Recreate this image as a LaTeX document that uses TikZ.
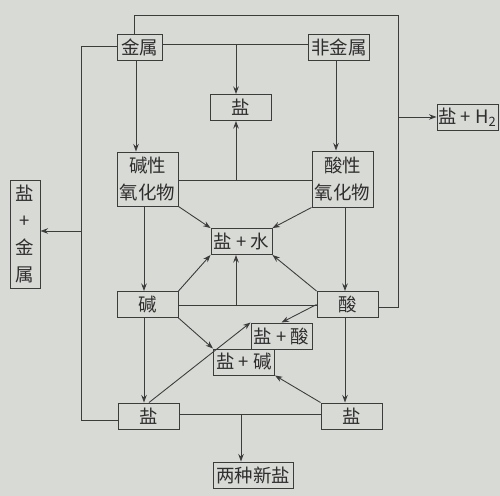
\documentclass[tikz,border=0pt]{standalone}
\usepackage{fontspec}
\setmainfont{Noto Sans CJK SC}
\usetikzlibrary{arrows.meta}
\definecolor{paperC}{HTML}{D8DAD6}
\definecolor{inkL}{HTML}{3C3C3C}
\definecolor{inkT}{HTML}{2E2E2E}
\tikzset{
  chembox/.style={draw=inkL, line width=0.55pt, text=inkT,
                  font=\fontsize{10.5}{15}\selectfont, align=center,
                  minimum width=1.22cm, minimum height=0.52cm, inner sep=0pt},
  link/.style={draw=inkL, line width=0.5pt},
  flow/.style={link, -{Stealth[length=1.5mm, width=1.1mm]}},
}
\begin{document}
\begin{tikzpicture}[x=0.02cm, y=-0.02cm]
  \fill[paperC] (0,0) rectangle (500,496);
  % boxes
  \node[chembox, minimum width=0.9cm] (metal) at (139.5,47.5) {金属};
  \node[chembox] (nonmetal) at (339,47.5) {非金属};
  \node[chembox] (saltTop) at (240.5,107.5) {盐};
  \node[chembox] (saltH) at (467.5,117) {盐 + H\textsubscript{2}};
  \node[chembox, minimum height=1.08cm] (basicOx) at (147.5,179) {碱性\\氧化物};
  \node[chembox, minimum height=1.12cm] (acidOx) at (342.5,179) {酸性\\氧化物};
  \node[chembox] (saltWater) at (241.5,241.5) {盐 + 水};
  \node[chembox, minimum width=0.6cm, minimum height=2.16cm,
        font=\fontsize{10.5}{15.3}\selectfont] (saltMetal) at (25,234) {盐\\+\\金\\属};
  \node[chembox] (base) at (147.5,304.5) {碱};
  \node[chembox] (acid) at (347.5,304.5) {酸};
  \node[chembox] (saltAcid) at (281.5,336) {盐 + 酸};
  \node[chembox] (saltBase) at (244,362) {盐 + 碱};
  \node[chembox] (saltL) at (149,416) {盐};
  \node[chembox] (saltR) at (351.5,416) {盐};
  \node[chembox, minimum width=1.6cm] (newSalts) at (253,475) {两种新盐};
  % junctions and columns
  \coordinate (jTop) at (236,44.5);
  \coordinate (jOx) at (236,180);
  \coordinate (jBA) at (236,305);
  \coordinate (jSS) at (241,414);
  \coordinate (loopR) at (398,15);
  \coordinate (jH) at (398,117);
  \coordinate (loopL) at (81,46);
  \coordinate (jM) at (81,231);
  \coordinate (colT) at (134,0);
  \coordinate (colA) at (136,0);
  \coordinate (colB) at (336,0);
  \coordinate (colL) at (144,0);
  \coordinate (colR) at (345,0);
  % pairs that react together
  \draw[link] (metal.east |- jTop) -- (nonmetal.west |- jTop);
  \draw[flow] (jTop) -- (jTop |- saltTop.north);
  \draw[link] (basicOx.east |- jOx) -- (acidOx.west |- jOx);
  \draw[flow] (jOx) -- (jOx |- saltTop.south);
  \draw[link] (base.east |- jBA) -- (acid.west |- jBA);
  \draw[flow] (jBA) -- (jBA |- saltWater.south);
  \draw[link] (saltL.east |- jSS) -- (saltR.west |- jSS);
  \draw[flow] (jSS) -- (jSS |- newSalts.north);
  % outer loops
  \draw[link] (metal.north -| colT) |- (loopR) |- ([yshift=-0.06cm]acid.east);
  \draw[flow] (jH) -- (saltH.west);
  \draw[link] (metal.west |- loopL) -- (loopL) |- ([yshift=-0.08cm]saltL.west);
  \draw[flow] (jM) -- (saltMetal.east |- jM);
  % down the columns
  \draw[flow] (metal.south -| colA) -- (basicOx.north -| colA);
  \draw[flow] (nonmetal.south -| colB) -- (acidOx.north -| colB);
  \draw[flow] (basicOx.south -| colL) -- (base.north -| colL);
  \draw[flow] (acidOx.south -| colR) -- (acid.north -| colR);
  \draw[flow] (base.south -| colL) -- (saltL.north -| colL);
  \draw[flow] (acid.south -| colR) -- (saltR.north -| colR);
  % diagonals
  \draw[flow] (basicOx.south east) -- (saltWater.north west);
  \draw[flow] (acidOx.south west) -- (saltWater.north east);
  \draw[flow] (base.north east) -- (saltWater.south west);
  \draw[flow] (acid.north west) -- (saltWater.south east);
  \draw[flow] (acid.west) -- (saltAcid.north);
  \draw[flow] (base.south east) -- (saltBase.north west);
  \draw[flow] (saltL.north) -- (saltAcid.north west);
  \draw[flow] (saltR.north west) -- (saltBase.south east);
\end{tikzpicture}
\end{document}
